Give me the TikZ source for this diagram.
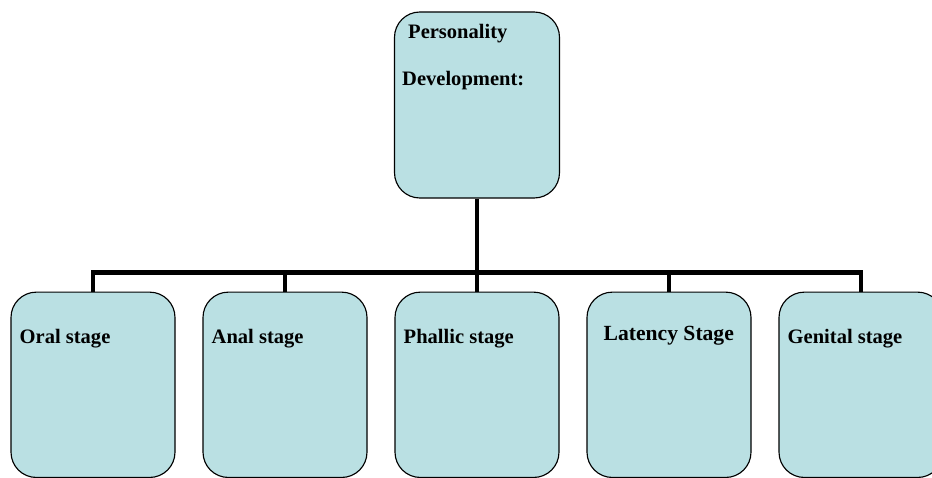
\documentclass[tikz,border=0pt]{standalone}
\usepackage{fontspec}
\setmainfont{Liberation Serif}
\usetikzlibrary{positioning}
\definecolor{BoxFill}{HTML}{BAE0E3}
\tikzset{
  stagebox/.style={draw=black,fill=BoxFill,line width=0.85pt,rounded corners=19pt,minimum width=123pt,minimum height=139pt,inner sep=0pt},
  rootbox/.style={stagebox,minimum width=123.75pt,minimum height=139.5pt},
  boxlabel/.style={anchor=base west,inner sep=0pt,font=\bfseries\fontsize{15.4}{18}\selectfont},
  linkline/.style={draw=black,line width=3.4pt}
}
\begin{document}
\begin{tikzpicture}[x=0.75pt,y=-0.75pt]
\useasboundingbox (0,0) rectangle (932,478);
\node[rootbox] (root) at (477,105) {};
\node[boxlabel] (roottop) at ([shift={(14,27)}]root.north west) {Personality};
\node[boxlabel] (rootbot) at ([shift={(8,74)}]root.north west) {Development:};
\foreach \n/\cx in {oral/93,anal/285,phallic/477,latency/669,genital/861}
  \node[stagebox] (\n) at (\cx,384.8) {};
\node[boxlabel] (oraltxt) at ([shift={(9,52)}]oral.north west) {Oral stage};
\node[boxlabel] (analtxt) at ([shift={(9,52)}]anal.north west) {Anal stage};
\node[boxlabel] (phallictxt) at ([shift={(9,52)}]phallic.north west) {Phallic stage};
\node[boxlabel,font=\bfseries\fontsize{16.2}{19}\selectfont] (latencytxt) at ([shift={(17,49)}]latency.north west) {Latency Stage};
\node[boxlabel] (genitaltxt) at ([shift={(9,52)}]genital.north west) {Genital stage};
\coordinate (hub) at (477,272.5);
\draw[linkline] (root.south) -- (hub);
\foreach \n in {oral,anal,phallic,latency,genital}
  \draw[linkline] (\n.north) |- (hub);
\end{tikzpicture}
\end{document}
